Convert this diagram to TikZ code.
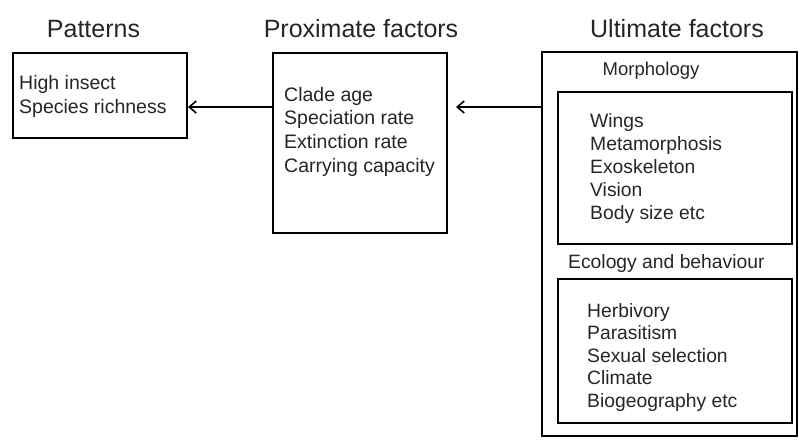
\documentclass[tikz,border=0pt]{standalone}
\usepackage{fontspec}
\setmainfont{Liberation Sans}
\usetikzlibrary{arrows.meta}
\definecolor{txt}{HTML}{262626}
\tikzset{
  box/.style={draw=black, line width=2pt, rectangle, inner sep=0pt},
  title/.style={anchor=base, text=txt, inner sep=0pt, font=\fontsize{25}{30}\selectfont},
  label/.style={anchor=base west, text=txt, inner sep=0pt, font=\fontsize{19.3}{23}\selectfont},
  list/.style={anchor=north west, text=txt, inner sep=0pt, align=left},
  arr/.style={draw=black, line width=1.6pt, -{Straight Barb[length=7pt,width=12pt,line width=1.6pt]}}
}
\begin{document}
\begin{tikzpicture}[x=1pt,y=-1pt]
\useasboundingbox[fill=white] (0,0) rectangle (799,445);

% titles
\node[title] (tpat) at (93.5,37) {Patterns};
\node[title] (tprox) at (361,37) {Proximate factors};
\node[title] (tult) at (677,37) {Ultimate factors};

% boxes
\node[box, minimum width=174pt, minimum height=85pt] (pat) at (100,95.5) {};
\node[box, minimum width=174pt, minimum height=180pt] (prox) at (360,143) {};
\node[box, minimum width=255pt, minimum height=384pt] (ult) at (669.5,244) {};
\node[box, minimum width=234pt, minimum height=152pt] (morph) at (675,168) {};
\node[box, minimum width=234pt, minimum height=144pt] (eco) at (675,351) {};

% texts
\node[list, font=\fontsize{19.5}{24}\selectfont] (pattxt) at (19,75) {High insect\\Species richness};
\node[list, font=\fontsize{19.5}{23.6}\selectfont] (proxtxt) at (284,87) {Clade age\\Speciation rate\\Extinction rate\\Carrying capacity};
\node[anchor=base, text=txt, inner sep=0pt, font=\fontsize{18.5}{21}\selectfont] (morphlbl) at (651,75) {Morphology};
\node[list, font=\fontsize{19.3}{23}\selectfont] (morphtxt) at (590,113) {Wings\\Metamorphosis\\Exoskeleton\\Vision\\Body size etc};
\node[label] (ecolbl) at (568,268) {Ecology and behaviour};
\node[list, font=\fontsize{19.3}{22.6}\selectfont] (ecotxt) at (587,303) {Herbivory\\Parasitism\\Sexual selection\\Climate\\Biogeography etc};

% connectors
\coordinate (a1) at (0,107);
\coordinate (a2e) at (456,107);
\draw[arr] (prox.west |- a1) -- (pat.east |- a1);
\draw[arr] (ult.west |- a2e) -- (a2e);
\end{tikzpicture}
\end{document}
